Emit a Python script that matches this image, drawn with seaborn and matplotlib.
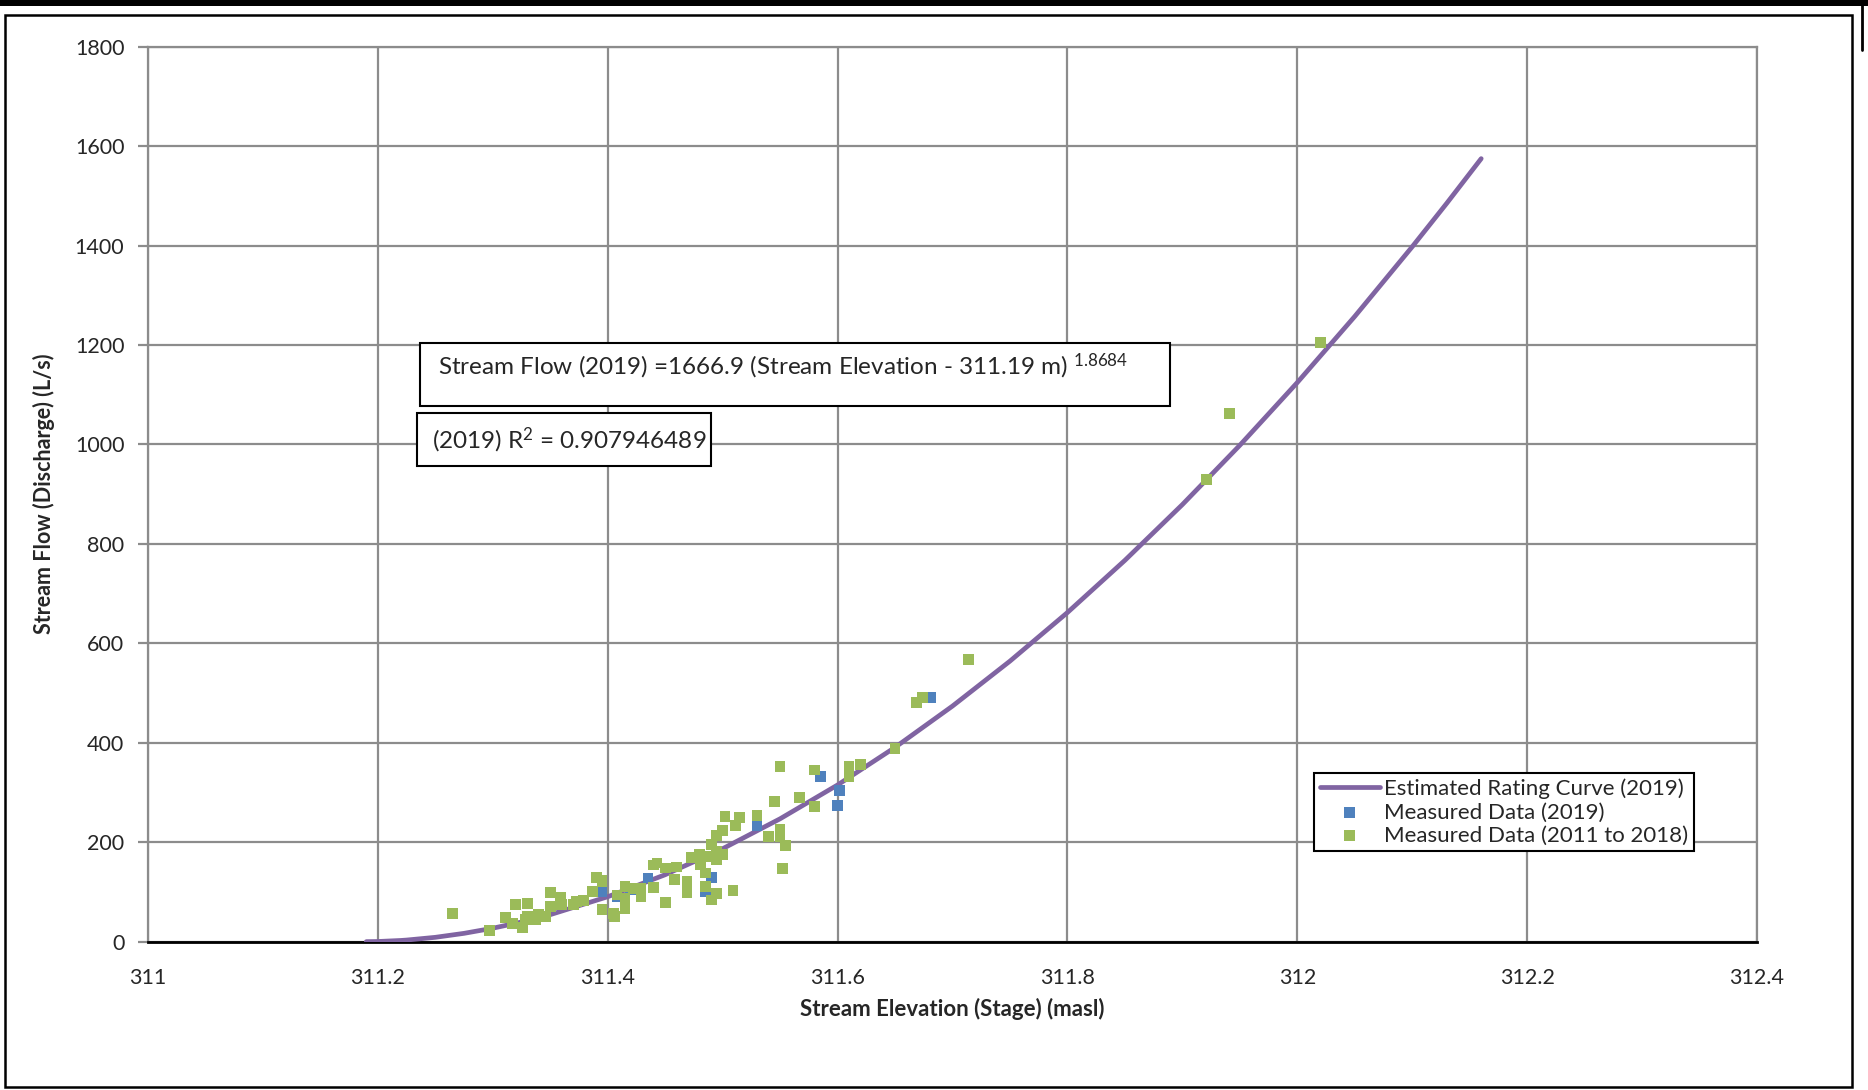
import numpy as np
import pandas as pd
import matplotlib
matplotlib.use("Agg")
import matplotlib.pyplot as plt
import seaborn as sns
from matplotlib.patches import Rectangle
from matplotlib.lines import Line2D
from matplotlib.ticker import MultipleLocator

# rating curve (stage m, discharge L/s)
curve_stage = [311.19, 311.20, 311.22, 311.225, 311.25, 311.275, 311.30, 311.325, 311.35,
               311.40, 311.45, 311.50, 311.55, 311.60, 311.65, 311.70, 311.75, 311.80,
               311.85, 311.90, 311.95, 312.00, 312.05, 312.10, 312.13, 312.16]
curve_flow = [0, 0.3, 2.4, 3.2, 8.7, 16.7, 27.0, 39.5, 54.3,
              90.3, 134.6, 186.9, 247.1, 315.1, 390.7, 473.8, 564.2, 661.9,
              766.9, 879.0, 998.3, 1124.5, 1257.5, 1397.6, 1484.9, 1574.8]

# measured 2019
m19_stage = [311.395, 311.408, 311.420, 311.435, 311.485, 311.490, 311.530,
             311.585, 311.600, 311.602, 311.681]
m19_flow = [100, 91, 105, 128, 100, 129, 233, 332, 274, 304, 491]

# measured 2011 to 2018
old_stage = [311.265, 311.297, 311.311, 311.317, 311.320, 311.326, 311.328, 311.330, 311.330,
             311.337, 311.340, 311.346, 311.350, 311.350, 311.359, 311.360, 311.370, 311.373,
             311.379, 311.387, 311.390, 311.395, 311.395, 311.395, 311.405, 311.406, 311.408,
             311.415, 311.415, 311.415, 311.422, 311.429, 311.429, 311.440, 311.443, 311.440,
             311.450, 311.450, 311.458, 311.460, 311.469, 311.469, 311.473, 311.480, 311.481,
             311.485, 311.485, 311.485, 311.490, 311.490, 311.495, 311.495, 311.495, 311.495,
             311.500, 311.500, 311.502, 311.509, 311.511, 311.515, 311.530, 311.540, 311.545,
             311.550, 311.550, 311.550, 311.552, 311.555, 311.567, 311.580, 311.580, 311.610,
             311.610, 311.620, 311.650, 311.669, 311.674, 311.714, 311.921, 311.941, 312.020]
old_flow = [57, 22, 48, 37, 75, 28, 44, 77, 50,
            44, 54, 50, 99, 70, 89, 74, 74, 80,
            83, 101, 129, 121, 64, 124, 57, 50, 94,
            111, 87, 67, 107, 107, 91, 154, 158, 109,
            148, 78, 125, 150, 121, 99, 170, 176, 154,
            171, 138, 111, 196, 84, 213, 181, 164, 97,
            223, 176, 251, 103, 233, 249, 253, 211, 282,
            352, 226, 211, 147, 193, 290, 345, 272, 352,
            332, 357, 388, 481, 491, 567, 930, 1062, 1205]

curve_df = pd.DataFrame({"stage": curve_stage, "flow": curve_flow})
m19_df = pd.DataFrame({"stage": m19_stage, "flow": m19_flow})
old_df = pd.DataFrame({"stage": old_stage, "flow": old_flow})

sns.set_style("white")
plt.rcParams["font.family"] = ["Lato", "DejaVu Sans"]
plt.rcParams["mathtext.fontset"] = "custom"
plt.rcParams["mathtext.rm"] = "Lato"

purple = "#8064A2"
blue = "#4F81BD"
green = "#9BBB59"
grid = "#8C8C8C"

fig = plt.figure(figsize=(18.68, 10.9), dpi=100)
ax = fig.add_axes([0.0792, 0.1361, 0.8614, 0.8211])

sns.lineplot(data=curve_df, x="stage", y="flow", color=purple, linewidth=3.4,
             label="Estimated Rating Curve (2019)", ax=ax, zorder=3)
sns.scatterplot(data=m19_df, x="stage", y="flow", marker="s", s=60, color=blue,
                edgecolor="none", label="Measured Data (2019)", ax=ax, zorder=4)
sns.scatterplot(data=old_df, x="stage", y="flow", marker="s", s=60, color=green,
                edgecolor="none", label="Measured Data (2011 to 2018)", ax=ax, zorder=5)

ax.set_xlim(311, 312.4)
ax.set_ylim(0, 1800)
ax.xaxis.set_major_locator(MultipleLocator(0.2))
ax.xaxis.set_minor_locator(MultipleLocator(0.05))
ax.yaxis.set_major_locator(MultipleLocator(200))
ax.xaxis.set_major_formatter(matplotlib.ticker.FuncFormatter(lambda v, p: f"{v:g}"))
ax.grid(True, which="major", color=grid, linewidth=1.6)
ax.set_axisbelow(True)
for s in ["top", "right", "left"]:
    ax.spines[s].set_color(grid)
    ax.spines[s].set_linewidth(1.6)
ax.spines["bottom"].set_color("black")
ax.spines["bottom"].set_linewidth(2)
ax.tick_params(axis="x", which="both", direction="out", length=7, width=1.6,
               color="black", labelsize=15.5, pad=12)
ax.tick_params(axis="y", which="major", direction="out", length=7, width=1.6,
               color=grid, labelsize=15.5, pad=10, left=True)
ax.set_xlabel("Stream Elevation (Stage) (masl)", fontsize=16, fontweight="bold", labelpad=7)
ax.set_ylabel("Stream Flow (Discharge) (L/s)", fontsize=15.5, fontweight="bold", labelpad=14)

leg = ax.legend(loc="lower left", bbox_to_anchor=(0.7247, 0.101), fontsize=16,
                frameon=True, fancybox=False, edgecolor="black", framealpha=1,
                handlelength=2.7, handletextpad=0.2, labelspacing=0.15,
                borderpad=0.25, borderaxespad=0)
leg.get_frame().set_linewidth(1.5)

# equation boxes
ax.add_patch(Rectangle((0.169, 0.5986), 0.466, 0.0704, transform=ax.transAxes,
                       facecolor="white", edgecolor="black", linewidth=1.5, zorder=6))
ax.text(0.180, 0.643, r"Stream Flow (2019) =1666.9 (Stream Elevation - 311.19 m) $\mathregular{^{1.8684}}$",
        transform=ax.transAxes, fontsize=17.5, va="center", ha="left", zorder=7)
ax.add_patch(Rectangle((0.167, 0.5315), 0.183, 0.0592, transform=ax.transAxes,
                       facecolor="white", edgecolor="black", linewidth=1.5, zorder=6))
ax.text(0.1766, 0.5606, r"(2019) R$\mathregular{^2}$ = 0.907946489",
        transform=ax.transAxes, fontsize=17.5, va="center", ha="left", zorder=7)

# outer chart frame and top bar
fig.patches.append(Rectangle((5 / 1868, 3 / 1090), 1847 / 1868, 1072 / 1090,
                             transform=fig.transFigure, fill=False,
                             edgecolor="black", linewidth=1.8))
fig.patches.append(Rectangle((0, 1 - 6 / 1090), 1, 6 / 1090, transform=fig.transFigure,
                             facecolor="black", edgecolor="none"))
fig.lines.append(Line2D([1862 / 1868, 1862 / 1868], [1, 1 - 50 / 1090],
                        transform=fig.transFigure, color="black", linewidth=2))

fig.savefig("out.png", dpi=100)
